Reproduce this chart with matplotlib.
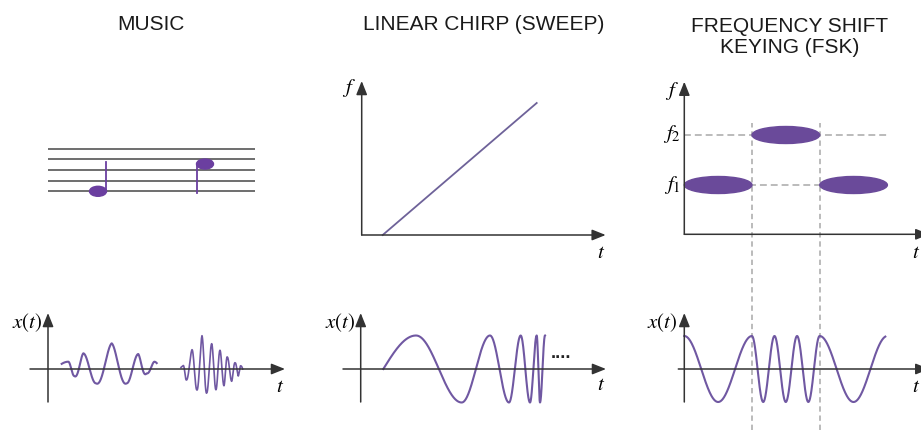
import numpy as np
import matplotlib.pyplot as plt
from matplotlib.patches import Ellipse

# Three ways a signal can change frequency over time: music, a chirp and FSK.
# All positions below are pixel offsets from each small panel's origin.

W, H = 921, 430

titles = ['MUSIC', 'LINEAR CHIRP (SWEEP)', 'FREQUENCY SHIFT\nKEYING (FSK)']

# music staff: five lines, two notes (x offset, height in staff steps, stem dir)
staff_lines = [0, 1, 2, 3, 4]
note_x = [50, 157]
note_step = [0, 2.55]
note_stem = [1, -1]

# music waveform: two tone bursts, keypoints = phase (quarter cycles) + amplitude
music1_t = [13.7, 20.3, 26.3, 35.3, 48.0, 63.7, 78.7, 90.3, 98.7, 106.3, 108.7]
music1_ph = [0.5, 1, 3, 5, 7, 9, 11, 13, 15, 17, 17.4]
music1_amp = [7.3, 7.3, 7.0, 15.7, 14.3, 25.7, 14.3, 15.0, 4.3, 7.3, 7.3]

music2_t = [133.0, 134.7, 138.0, 144.0, 148.7, 154.0, 158.7, 163.7, 168.0,
            172.0, 176.0, 179.3, 183.7, 187.3, 190.3, 193.0, 194.7]
music2_ph = [0.4, 1, 3, 5, 7, 9, 11, 13, 15, 17, 19, 21, 23, 25, 27, 29, 30]
music2_amp = [2.7, 2.7, 10.7, 19.3, 20.7, 33.3, 24.0, 25.3, 20.7, 18.7, 16.7,
              12.0, 12.3, 6.0, 7.0, 3.0, 3.0]

# chirp: frequency line (t, f) and waveform extrema
chirp_line_t = [21, 175]
chirp_line_f = [0, 132]
chirp_t = [22.6, 55.3, 101.0, 129.3, 148.3, 160.0, 169.3, 176.0, 179.3, 184.3]
chirp_ph = [0, 1, 3, 5, 7, 9, 11, 13, 15, 17]
chirp_amp = 33.5

# FSK: bit sequence, frequency levels (f1, f2) and cycles per bit
fsk_bits = [0, 1, 0]
fsk_levels = [49.3, 99.3]
fsk_cycles = [1, 3]
bit_w = 67.7
fsk_end = 201
fsk_amp = 33

PURPLE = '#7058a2'
FILL = '#6a4a9a'
AXIS = '#333333'
DASH = '#a8a8a8'

plt.rcParams['mathtext.fontset'] = 'stix'
plt.rcParams['font.family'] = ['Liberation Sans', 'DejaVu Sans']

fig = plt.figure(figsize=(W / 100, H / 100), dpi=100)
fig.patch.set_facecolor('white')


def panel(box, origin, yunit=1.0):
	l, t, r, b = box
	ox, oy = origin
	ax = fig.add_axes([l / W, 1 - b / H, (r - l) / W, (b - t) / H])
	ax.set_xlim(l - ox, r - ox)
	ax.set_ylim((oy - b) / yunit, (oy - t) / yunit)
	ax.set_axis_off()
	ax.patch.set_alpha(0)
	return ax


def arrow(ax, x0, y0, x1, y1):
	ax.annotate('', xy=(x1, y1), xytext=(x0, y0), annotation_clip=False,
				arrowprops=dict(arrowstyle='-|>,head_length=0.75,head_width=0.3',
								mutation_scale=11, color=AXIS, lw=1.1,
								shrinkA=0, shrinkB=0))


def wave(t_keys, ph_keys, amp_keys, n=1500):
	t = np.linspace(t_keys[0], t_keys[-1], n)
	ph = np.interp(t, t_keys, ph_keys)
	amp = np.interp(t, t_keys, np.broadcast_to(amp_keys, len(t_keys)))
	return t, amp * np.sin(ph * np.pi / 2)


def label(x, y, s, **kw):
	fig.text(x / W, 1 - y / H, s, **kw)


def xt_axes(ax, left, right):
	arrow(ax, left, 0, right, 0)
	arrow(ax, 0, -33, 0, 56)


# titles
label(151, 25, titles[0], ha='center', va='center', fontsize=15, color='#1a1a1a')
label(484, 25, titles[1], ha='center', va='center', fontsize=15, color='#1a1a1a')
label(790, 37, titles[2], ha='center', va='center', fontsize=15, color='#1a1a1a',
	  linespacing=1.12)

# music staff
sp = 10.7
ax = panel((30, 130, 290, 215), (48, 191.3), yunit=sp)
for s in staff_lines:
	ax.plot([0, 207], [s, s], color='#6e6e6e', lw=1.4, solid_capstyle='butt')
for x, y, d in zip(note_x, note_step, note_stem):
	ax.add_patch(Ellipse((x, y), 17, 10 / sp, angle=0, color='#6b3fa0', zorder=3))
	sx = x + 8 * d
	ax.plot([sx, sx], [y, y + 2.75 * d], color='#6b3fa0', lw=1.3, zorder=3)

# music waveform
ax = panel((0, 290, 300, 420), (48, 369))
xt_axes(ax, -18, 237)
ax.plot(*wave(music1_t, music1_ph, music1_amp), color=PURPLE, lw=1.5)
ax.plot(*wave(music2_t, music2_ph, music2_amp), color=PURPLE, lw=1.2)
label(42, 323, r'$x(t)$', ha='right', va='center', fontsize=15)
label(280, 387, r'$t$', ha='center', va='center', fontsize=15)

# chirp frequency vs time
ax = panel((330, 70, 620, 265), (361.7, 235))
arrow(ax, 0, 0, 0, 154)
arrow(ax, 0, 0, 244, 0)
ax.plot(chirp_line_t, chirp_line_f, color='#6e6299', lw=1.3)
label(349, 88, r'$f$', ha='center', va='center', fontsize=15)
label(601, 252, r'$t$', ha='center', va='center', fontsize=15)

# chirp waveform
ax = panel((320, 290, 620, 420), (360.7, 369))
xt_axes(ax, -17.7, 245.3)
ax.plot(*wave(chirp_t, chirp_ph, chirp_amp), color=PURPLE, lw=1.5)
ax.text(190, 16, '....', ha='left', va='center', fontsize=13, fontweight='bold',
		color='#222222')
label(355, 323, r'$x(t)$', ha='right', va='center', fontsize=15)
label(601, 385, r'$t$', ha='center', va='center', fontsize=15)

# FSK frequency vs time
ax = panel((640, 70, 921, 265), (684.3, 234.3))
edges = [i * bit_w for i in range(len(fsk_bits) + 1)]
for lvl in fsk_levels:
	ax.plot([0, edges[-1]], [lvl, lvl], color=DASH, lw=1.1, ls=(0, (4.5, 2.6)))
for i in range(1, len(fsk_bits)):
	if fsk_bits[i] != fsk_bits[i - 1]:
		ax.plot([edges[i], edges[i]], [-196, 111], color=DASH, lw=1.1,
				ls=(0, (3.5, 2.5)), clip_on=False, zorder=0)
for i, b in enumerate(fsk_bits):
	ax.add_patch(Ellipse(((i + 0.5) * bit_w, fsk_levels[b]), bit_w, 17,
						 color=FILL, zorder=3))
arrow(ax, 0, 0, 0, 152.6)
arrow(ax, 0, 0, 245, 0)
label(672, 91, r'$f$', ha='center', va='center', fontsize=15)
label(681, 134, r'$f_2$', ha='right', va='center', fontsize=15)
label(681, 185, r'$f_1$', ha='right', va='center', fontsize=15)
label(920, 253, r'$t$', ha='right', va='center', fontsize=15)

# FSK waveform: continuous phase, frequency set by each bit
ax = panel((640, 290, 921, 420), (684.3, 369))
xt_axes(ax, -6, 245)
t = np.linspace(0, fsk_end, 1500)
idx = np.minimum((t // bit_w).astype(int), len(fsk_bits) - 1)
freq = np.array([fsk_cycles[fsk_bits[i]] for i in idx]) / bit_w
phase = np.concatenate([[0], np.cumsum(freq[1:] * np.diff(t))])
ax.plot(t, fsk_amp * np.cos(2 * np.pi * phase), color=PURPLE, lw=1.5)
label(662, 323, r'$x(t)$', ha='center', va='center', fontsize=15)
label(920, 386, r'$t$', ha='right', va='center', fontsize=15)

plt.savefig('out.png', dpi=100)
plt.close()
